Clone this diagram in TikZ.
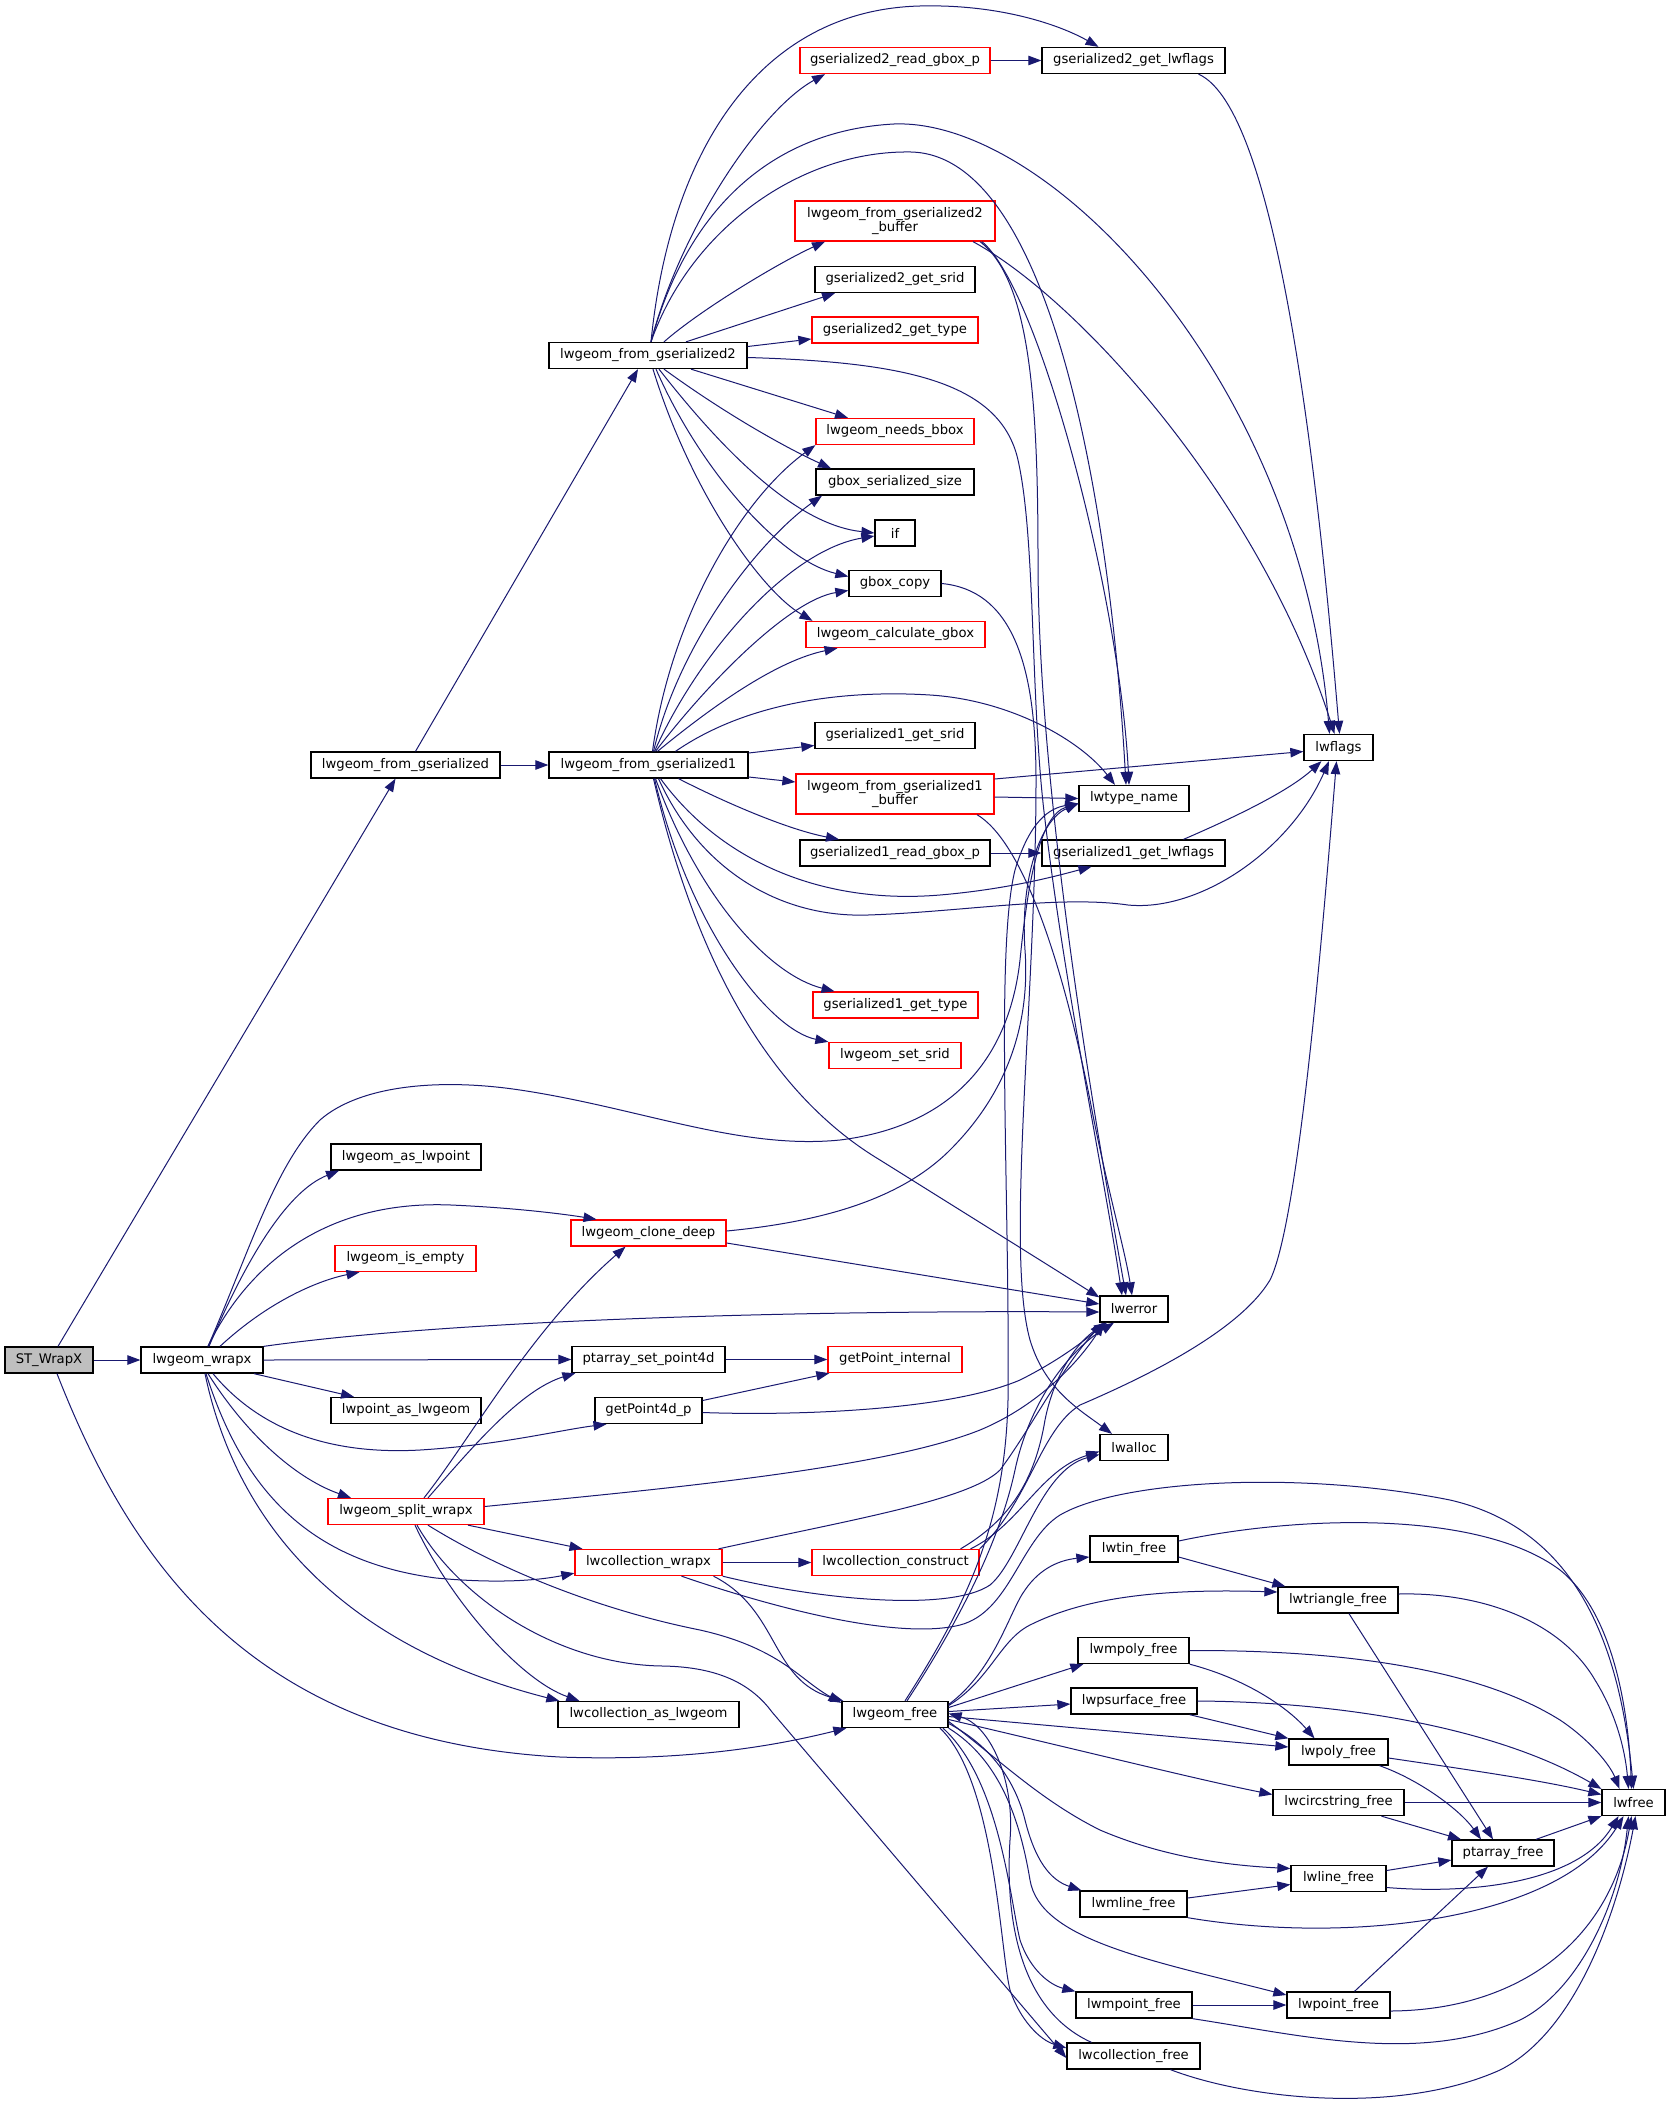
\documentclass[tikz,border=0pt]{standalone}
\usepackage{fontspec}
\setmainfont{DejaVu Sans}
\usetikzlibrary{arrows.meta}
\definecolor{edgecol}{HTML}{191970}
\definecolor{stgray}{HTML}{BFBFBF}
\newcommand\nfont{\fontsize{13.2}{14.7}\selectfont}
\begin{document}
\begin{tikzpicture}[x=1pt,y=-1pt,
  fn/.style={draw=black, fill=white, line width=1.3pt, inner sep=0pt, minimum height=26pt, font=\nfont, text=black, align=center},
  fnr/.style={fn, draw=red},
  edge/.style={draw=edgecol, line width=1pt, -{Triangle[length=13pt,width=9.5pt]}}]
\useasboundingbox (0,0) rectangle (1671,2114);
\fill[white] (0,0) rectangle (1671,2114);
% ---------------- nodes ----------------
\node[fn, fill=stgray, minimum width=88pt] (st) at (49,1360) {ST\_WrapX};
\node[fn, minimum width=122pt] (wrapx) at (202,1360) {lwgeom\_wrapx};
\node[fn, minimum width=189pt] (fromg) at (405.5,765) {lwgeom\_from\_gserialized};
\node[fn, minimum width=198pt] (fromg2) at (648,355.5) {lwgeom\_from\_gserialized2};
\node[fn, minimum width=199pt] (fromg1) at (648.5,765) {lwgeom\_from\_gserialized1};
\node[fnr, minimum width=190pt] (g2read) at (895,60.5) {gserialized2\_read\_gbox\_p};
\node[fn, minimum width=183pt] (g2lwflags) at (1133.5,60.5) {gserialized2\_get\_lwflags};
\node[fnr, minimum width=200pt, minimum height=40pt] (g2buf) at (895,221) {lwgeom\_from\_gserialized2\\\_buffer};
\node[fn, minimum width=160pt] (g2srid) at (895,279.5) {gserialized2\_get\_srid};
\node[fnr, minimum width=166pt] (g2type) at (895,330) {gserialized2\_get\_type};
\node[fnr, minimum width=158pt] (needsbbox) at (895,431.5) {lwgeom\_needs\_bbox};
\node[fn, minimum width=158pt] (gboxsize) at (895,482) {gbox\_serialized\_size};
\node[fn, minimum width=40pt] (if) at (895,533) {if};
\node[fn, minimum width=92pt] (gboxcopy) at (895,583.5) {gbox\_copy};
\node[fnr, minimum width=179pt] (calcgbox) at (895.5,634.5) {lwgeom\_calculate\_gbox};
\node[fn, minimum width=160pt] (g1srid) at (895,735.5) {gserialized1\_get\_srid};
\node[fnr, minimum width=198pt, minimum height=40pt] (g1buf) at (895,794) {lwgeom\_from\_gserialized1\\\_buffer};
\node[fn, minimum width=110pt] (lwtype) at (1134,798.5) {lwtype\_name};
\node[fn, minimum width=69pt] (lwflags) at (1338.5,747.5) {lwflags};
\node[fn, minimum width=190pt] (g1read) at (895,853) {gserialized1\_read\_gbox\_p};
\node[fn, minimum width=183pt] (g1lwflags) at (1133.5,853) {gserialized1\_get\_lwflags};
\node[fnr, minimum width=165pt] (g1type) at (895.5,1005) {gserialized1\_get\_type};
\node[fnr, minimum width=132pt] (setsrid) at (895,1055.5) {lwgeom\_set\_srid};
\node[fn, minimum width=150pt] (aslwpoint) at (406,1157) {lwgeom\_as\_lwpoint};
\node[fnr, minimum width=155pt] (clonedeep) at (648.5,1233) {lwgeom\_clone\_deep};
\node[fnr, minimum width=141pt] (isempty) at (405.5,1258.5) {lwgeom\_is\_empty};
\node[fn, minimum width=68pt] (lwerror) at (1134,1309) {lwerror};
\node[fn, minimum width=153pt] (ptset) at (648.5,1359.5) {ptarray\_set\_point4d};
\node[fnr, minimum width=134pt] (getpint) at (895,1359.5) {getPoint\_internal};
\node[fn, minimum width=150pt] (lwptaslw) at (406,1410.5) {lwpoint\_as\_lwgeom};
\node[fn, minimum width=107pt] (getp4d) at (648.5,1410.5) {getPoint4d\_p};
\node[fn, minimum width=68pt] (lwalloc) at (1134,1447.5) {lwalloc};
\node[fnr, minimum width=156pt] (splitwrapx) at (406,1511.5) {lwgeom\_split\_wrapx};
\node[fnr, minimum width=147pt] (collwrapx) at (648.5,1562.5) {lwcollection\_wrapx};
\node[fnr, minimum width=167pt] (collconstruct) at (895.5,1562.5) {lwcollection\_construct};
\node[fn, minimum width=88pt] (tinfree) at (1134,1549) {lwtin\_free};
\node[fn, minimum width=120pt] (trifree) at (1338,1600) {lwtriangle\_free};
\node[fn, minimum width=111pt] (mpolyfree) at (1133.5,1650.5) {lwmpoly\_free};
\node[fn, minimum width=126pt] (psurffree) at (1134,1701) {lwpsurface\_free};
\node[fn, minimum width=106pt] (geomfree) at (895,1714.5) {lwgeom\_free};
\node[fn, minimum width=181pt] (collaslw) at (648.5,1714.5) {lwcollection\_as\_lwgeom};
\node[fn, minimum width=99pt] (polyfree) at (1338.5,1752) {lwpoly\_free};
\node[fn, minimum width=131pt] (circfree) at (1338.5,1802.5) {lwcircstring\_free};
\node[fn, minimum width=63pt] (lwfree) at (1633.5,1802.5) {lwfree};
\node[fn, minimum width=102pt] (ptfree) at (1503,1853) {ptarray\_free};
\node[fn, minimum width=95pt] (linefree) at (1338.5,1878.5) {lwline\_free};
\node[fn, minimum width=107pt] (mlinefree) at (1133.5,1904) {lwmline\_free};
\node[fn, minimum width=116pt] (mptfree) at (1134,2005) {lwmpoint\_free};
\node[fn, minimum width=103pt] (ptfree2) at (1338.5,2005) {lwpoint\_free};
\node[fn, minimum width=133pt] (collfree) at (1133.5,2056) {lwcollection\_free};
% ---------------- edges ----------------
\draw[edge] ([xshift=9pt]st.north) -- ([xshift=-10pt]fromg.south);
\draw[edge] (st.east) -- (wrapx.west);
\draw[edge] ([xshift=8pt]st.south) .. controls (130,1560) and (250,1740) .. (560,1757) .. controls (700,1762) and (790,1742) .. ([xshift=5pt]geomfree.south west);
\draw[edge] (fromg.east) -- (fromg1.west);
\draw[edge] ([xshift=10pt]fromg.north) -- ([xshift=-10pt]fromg2.south);
% fromg2
\draw[edge] ([xshift=3pt]fromg2.north) .. controls (680,230) and (760,110) .. ([xshift=-70pt]g2read.south);
\draw[edge] ([xshift=3pt]fromg2.north) .. controls (670,150) and (760,10) .. (920,6) .. controls (1000,4) and (1060,25) .. ([xshift=-35pt]g2lwflags.north);
\draw[edge] ([xshift=3pt]fromg2.north) .. controls (690,200) and (780,130) .. (894,124) .. controls (1050,118) and (1300,380) .. ([xshift=-9pt]lwflags.north);
\draw[edge] ([xshift=3pt]fromg2.north) .. controls (690,230) and (800,150) .. (911,152) .. controls (1050,155) and (1110,500) .. ([xshift=-8pt]lwtype.north);
\draw[edge] ([xshift=16pt]fromg2.north) .. controls (700,310) and (780,262) .. ([xshift=-70pt]g2buf.south);
\draw[edge] ([xshift=38pt]fromg2.north) -- ([xshift=-60pt]g2srid.south);
\draw[edge] ([yshift=9pt]fromg2.east) -- ([yshift=-9pt]g2type.west);
\draw[edge] ([yshift=-2pt]fromg2.east) .. controls (900,362) and (1000,380) .. (1018,460) .. controls (1036,540) and (1030,700) .. (1045,820) .. controls (1065,990) and (1105,1180) .. ([xshift=-12pt]lwerror.north);
\draw[edge] ([xshift=43pt]fromg2.south) -- ([xshift=-47pt]needsbbox.north);
\draw[edge] ([xshift=16pt]fromg2.south) .. controls (720,410) and (780,445) .. ([xshift=-64pt]gboxsize.north);
\draw[edge] ([xshift=11pt]fromg2.south) .. controls (730,460) and (800,525) .. (if.west);
\draw[edge] ([xshift=8pt]fromg2.south) .. controls (700,470) and (780,560) .. ([yshift=7pt]gboxcopy.west);
\draw[edge] ([xshift=5pt]fromg2.south) .. controls (690,490) and (760,590) .. ([xshift=-83pt]calcgbox.north);
\draw[edge] (g2read.east) -- (g2lwflags.west);
\draw[edge] ([xshift=65pt]g2lwflags.south) .. controls (1280,110) and (1320,500) .. ([xshift=1pt]lwflags.north);
\draw[edge] ([xshift=78pt]g2buf.south) .. controls (1080,300) and (1260,500) .. ([xshift=-4pt]lwflags.north);
\draw[edge] ([xshift=87pt]g2buf.south) .. controls (1040,290) and (1120,600) .. ([xshift=-5pt]lwtype.north);
\draw[edge] ([xshift=85pt]g2buf.south) .. controls (1030,280) and (1038,400) .. (1038,560) .. controls (1038,800) and (1100,1150) .. ([xshift=-8pt]lwerror.north);
\draw[edge] (gboxcopy.east) .. controls (1010,590) and (1036,660) .. (1036,780) .. controls (1036,1000) and (1005,1250) .. (1030,1340) .. controls (1045,1390) and (1080,1410) .. ([xshift=-22pt]lwalloc.north);
% fromg1
\draw[edge] ([xshift=4pt]fromg1.north) .. controls (670,620) and (740,500) .. (needsbbox.south west);
\draw[edge] ([xshift=5pt]fromg1.north) .. controls (680,640) and (760,540) .. ([xshift=-73pt]gboxsize.south);
\draw[edge] ([xshift=6pt]fromg1.north) .. controls (700,650) and (790,550) .. ([yshift=-3pt]if.west);
\draw[edge] ([xshift=7pt]fromg1.north) .. controls (710,680) and (790,600) .. ([yshift=-7pt]gboxcopy.west);
\draw[edge] ([xshift=9pt]fromg1.north) .. controls (720,700) and (780,660) .. ([xshift=-58pt]calcgbox.south);
\draw[edge] ([xshift=27pt]fromg1.north) .. controls (750,700) and (850,690) .. (930,695) .. controls (1010,700) and (1080,740) .. ([xshift=-19pt]lwtype.north);
\draw[edge] ([yshift=12pt]fromg1.east) -- ([yshift=-10pt]g1srid.west);
\draw[edge] ([yshift=-12pt]fromg1.east) -- ([yshift=12pt]g1buf.west);
\draw[edge] ([xshift=30pt]fromg1.south) .. controls (730,805) and (790,830) .. ([xshift=-56pt]g1read.north);
\draw[edge] ([xshift=12pt]fromg1.south) .. controls (720,860) and (820,905) .. (940,895) .. controls (1010,889) and (1060,875) .. ([xshift=-42pt]g1lwflags.south);
\draw[edge] ([xshift=10pt]fromg1.south) .. controls (700,870) and (780,918) .. (868,915) .. controls (960,912) and (1060,895) .. (1128,905) .. controls (1200,912) and (1290,850) .. ([xshift=-9.5pt]lwflags.south);
\draw[edge] ([xshift=7pt]fromg1.south) .. controls (700,900) and (770,975) .. ([xshift=-61pt]g1type.north);
\draw[edge] ([xshift=6pt]fromg1.south) .. controls (690,930) and (770,1030) .. (setsrid.north west);
\draw[edge] ([xshift=5pt]fromg1.south) .. controls (700,980) and (780,1100) .. (880,1160) .. controls (960,1210) and (1040,1260) .. ([yshift=-2pt]lwerror.north west);
\draw[edge] ([yshift=15pt]g1buf.east) -- ([yshift=-4pt]lwflags.west);
\draw[edge] ([yshift=-3pt]g1buf.east) -- (lwtype.west);
\draw[edge] ([xshift=82pt]g1buf.south) .. controls (1020,840) and (1060,950) .. (1090,1100) .. controls (1105,1180) and (1125,1250) .. ([xshift=-2pt]lwerror.north);
\draw[edge] (g1read.east) -- (g1lwflags.west);
\draw[edge] ([xshift=50pt]g1lwflags.north) .. controls (1240,815) and (1290,790) .. ([xshift=-17pt]lwflags.south);
% wrapx
\draw[edge] ([xshift=6pt]wrapx.north) .. controls (250,1250) and (275,1165) .. (320,1120) .. controls (360,1085) and (440,1078) .. (520,1090) .. controls (640,1108) and (740,1150) .. (840,1140) .. controls (960,1125) and (1010,1050) .. (1020,960) .. controls (1028,880) and (1040,815) .. ([yshift=-5pt]lwtype.west);
\draw[edge] ([xshift=7pt]wrapx.north) .. controls (250,1250) and (290,1190) .. ([xshift=-67pt]aslwpoint.south);
\draw[edge] ([xshift=6pt]wrapx.north) .. controls (250,1260) and (330,1200) .. (451,1205) .. controls (520,1208) and (570,1215) .. ([xshift=-52pt]clonedeep.north);
\draw[edge] ([xshift=18pt]wrapx.north) .. controls (270,1300) and (320,1280) .. ([xshift=-46pt]isempty.south);
\draw[edge] (wrapx.north east) .. controls (450,1320) and (800,1310) .. ([yshift=-3pt]lwerror.west);
\draw[edge] (wrapx.east) -- (ptset.west);
\draw[edge] ([xshift=52pt]wrapx.south) -- ([xshift=-52pt]lwptaslw.north);
\draw[edge] ([xshift=11pt]wrapx.south) .. controls (260,1430) and (330,1455) .. (420,1450) .. controls (500,1445) and (560,1430) .. ([xshift=-42pt]getp4d.south);
\draw[edge] ([xshift=6pt]wrapx.south) .. controls (250,1440) and (300,1480) .. ([xshift=-55pt]splitwrapx.north);
\draw[edge] ([xshift=4pt]wrapx.south) .. controls (240,1480) and (300,1560) .. (436,1578) .. controls (500,1584) and (540,1580) .. ([yshift=3pt]collwrapx.south west);
\draw[edge] ([xshift=3pt]wrapx.south) .. controls (240,1540) and (360,1650) .. ([xshift=2pt]collaslw.north west);
% clonedeep, getPoint
\draw[edge] ([yshift=2pt]clonedeep.east) .. controls (820,1222) and (900,1200) .. (950,1150) .. controls (1010,1090) and (1030,1020) .. (1025,950) .. controls (1020,880) and (1040,820) .. ([yshift=-5pt]lwtype.west);
\draw[edge] ([yshift=-10pt]clonedeep.east) -- ([yshift=5pt]lwerror.west);
\draw[edge] (ptset.east) -- (getpint.west);
\draw[edge] ([yshift=10pt]getp4d.east) -- ([xshift=2pt]getpint.south west);
\draw[edge] ([yshift=-2pt]getp4d.east) .. controls (800,1416) and (950,1410) .. (1020,1380) .. controls (1060,1360) and (1085,1340) .. ([xshift=-28pt]lwerror.south);
% split
\draw[edge] ([xshift=18pt]splitwrapx.north) .. controls (470,1440) and (530,1330) .. ([xshift=-23pt]clonedeep.south);
\draw[edge] ([xshift=22pt]splitwrapx.north) .. controls (470,1450) and (520,1390) .. ([xshift=4pt]ptset.south west);
\draw[edge] ([yshift=5pt]splitwrapx.east) .. controls (650,1490) and (880,1470) .. (980,1430) .. controls (1040,1405) and (1080,1360) .. ([xshift=-30pt]lwerror.south);
\draw[edge] ([xshift=62pt]splitwrapx.south) -- ([xshift=-66pt]collwrapx.north);
\draw[edge] ([xshift=22pt]splitwrapx.south) .. controls (500,1570) and (600,1610) .. (700,1630) .. controls (780,1648) and (800,1680) .. ([yshift=-2pt]geomfree.north west);
\draw[edge] ([xshift=9pt]splitwrapx.south) .. controls (450,1600) and (520,1680) .. ([xshift=22pt]collaslw.north west);
\draw[edge] ([xshift=11pt]splitwrapx.south) .. controls (460,1600) and (560,1665) .. (663,1666) .. controls (720,1667) and (752,1685) .. (772,1712) -- ([yshift=-2pt]collfree.west);
% collwrapx
\draw[edge] (collwrapx.east) -- (collconstruct.west);
\draw[edge] ([xshift=70pt]collwrapx.north) .. controls (850,1520) and (970,1500) .. (1000,1470) .. controls (1030,1430) and (1060,1370) .. ([xshift=-31pt]lwerror.south);
\draw[edge] (collwrapx.south east) .. controls (820,1600) and (950,1612) .. (990,1585) .. controls (1020,1560) and (1040,1470) .. ([yshift=-7pt]lwalloc.west);
\draw[edge] ([xshift=33pt]collwrapx.south) .. controls (780,1610) and (900,1640) .. (960,1625) .. controls (1010,1612) and (1020,1540) .. (1060,1515) .. controls (1120,1480) and (1300,1470) .. (1450,1500) .. controls (1580,1530) and (1620,1650) .. (lwfree.north);
\draw[edge] ([xshift=65pt]collwrapx.south) .. controls (780,1610) and (770,1680) .. ([xshift=2pt]geomfree.north west);
% collconstruct
\draw[edge] ([xshift=65pt]collconstruct.north) .. controls (1010,1520) and (1035,1480) .. (1045,1420) .. controls (1055,1370) and (1080,1340) .. ([xshift=-27pt]lwerror.south);
\draw[edge] ([xshift=75pt]collconstruct.north) .. controls (1020,1525) and (1040,1470) .. ([yshift=-4pt]lwalloc.west);
\draw[edge] (collconstruct.north east) .. controls (1030,1500) and (1040,1430) .. (1080,1405) .. controls (1150,1375) and (1240,1330) .. (1270,1280) .. controls (1300,1220) and (1325,900) .. ([xshift=-2pt]lwflags.south);
% geomfree
\draw[edge] ([xshift=12pt]geomfree.north) .. controls (960,1620) and (1000,1540) .. (1015,1470) .. controls (1030,1400) and (1070,1350) .. ([xshift=-20pt]lwerror.south);
\draw[edge] ([xshift=10pt]geomfree.north) .. controls (970,1600) and (1005,1520) .. (1008,1400) .. controls (1010,1200) and (995,950) .. (1015,870) .. controls (1030,820) and (1050,808) .. ([yshift=-5pt]lwtype.west);
\draw[edge] ([yshift=10pt]geomfree.east) .. controls (995,1670) and (1010,1610) .. (1025,1590) .. controls (1040,1568) and (1060,1560) .. ([yshift=-8pt]tinfree.west);
\draw[edge] ([yshift=9pt]geomfree.east) .. controls (990,1680) and (1000,1640) .. (1030,1625) .. controls (1080,1600) and (1150,1588) .. ([yshift=8pt]trifree.west);
\draw[edge] ([yshift=7pt]geomfree.east) -- ([xshift=6pt]mpolyfree.south west);
\draw[edge] ([yshift=3pt]geomfree.east) -- ([yshift=-3pt]psurffree.west);
\draw[edge] ([yshift=-2pt]geomfree.east) -- ([yshift=5pt]polyfree.west);
\draw[edge] ([yshift=-5pt]geomfree.east) .. controls (1100,1755) and (1200,1780) .. ([yshift=8pt]circfree.west);
\draw[edge] ([yshift=-7pt]geomfree.east) .. controls (1000,1760) and (1040,1800) .. (1100,1830) .. controls (1170,1860) and (1240,1866) .. ([yshift=10pt]linefree.west);
\draw[edge] ([yshift=-9pt]geomfree.east) .. controls (990,1745) and (1015,1780) .. (1025,1820) .. controls (1035,1860) and (1050,1880) .. ([xshift=2pt]mlinefree.north west);
\draw[edge] (geomfree.south east) .. controls (1000,1760) and (1020,1820) .. (1030,1880) .. controls (1040,1940) and (1150,1960) .. ([yshift=10pt]ptfree2.west);
\draw[edge] ([xshift=48pt]geomfree.south) .. controls (1000,1780) and (1010,1900) .. (1020,1940) .. controls (1030,1970) and (1050,1985) .. (mptfree.north west);
\draw[edge] ([xshift=45pt]geomfree.south) .. controls (995,1780) and (1000,1950) .. (1010,1990) .. controls (1020,2020) and (1040,2040) .. ([yshift=8pt]collfree.west);
\draw[edge] ([xshift=-42pt]collfree.north) .. controls (1020,2010) and (1005,1920) .. (1010,1840) .. controls (1015,1780) and (990,1725) .. ([yshift=1pt]geomfree.east);
% free functions
\draw[edge] ([yshift=8pt]tinfree.east) .. controls (1300,1515) and (1480,1510) .. (1560,1570) .. controls (1610,1610) and (1628,1700) .. ([xshift=-2pt]lwfree.north);
\draw[edge] ([yshift=-8pt]tinfree.east) -- ([xshift=8pt]trifree.north west);
\draw[edge] ([yshift=6pt]trifree.east) .. controls (1480,1592) and (1560,1620) .. (1595,1680) .. controls (1620,1720) and (1626,1760) .. ([xshift=-5pt]lwfree.north);
\draw[edge] ([xshift=11pt]trifree.south) -- ([xshift=-10pt]ptfree.north);
\draw[edge] (mpolyfree.east) .. controls (1350,1650) and (1480,1670) .. (1560,1720) .. controls (1590,1740) and (1610,1765) .. ([xshift=-14pt]lwfree.north);
\draw[edge] (mpolyfree.south east) .. controls (1250,1680) and (1290,1710) .. ([xshift=-24pt]polyfree.north);
\draw[edge] (psurffree.east) .. controls (1350,1702) and (1500,1730) .. (lwfree.north west);
\draw[edge] ([xshift=-8pt]psurffree.south east) -- (polyfree.north west);
\draw[edge] ([yshift=-6pt]polyfree.east) .. controls (1470,1770) and (1540,1780) .. ([yshift=8pt]lwfree.west);
\draw[edge] ([xshift=41pt]polyfree.south) .. controls (1420,1780) and (1460,1810) .. ([xshift=-22pt]ptfree.north);
\draw[edge] (circfree.east) -- (lwfree.west);
\draw[edge] ([xshift=43pt]circfree.south) -- ([xshift=-42pt]ptfree.north);
\draw[edge] ([xshift=33pt]ptfree.north) -- (lwfree.south west);
\draw[edge] ([yshift=8pt]linefree.east) -- ([yshift=-7pt]ptfree.west);
\draw[edge] ([yshift=-9pt]linefree.east) .. controls (1480,1895) and (1580,1880) .. ([xshift=-15pt]lwfree.south);
\draw[edge] ([yshift=6pt]mlinefree.east) -- ([yshift=-6pt]linefree.west);
\draw[edge] (mlinefree.south east) .. controls (1350,1945) and (1560,1920) .. ([xshift=-10pt]lwfree.south);
\draw[edge] (mptfree.east) -- (ptfree2.west);
\draw[edge] (mptfree.south east) .. controls (1300,2035) and (1420,2065) .. (1520,2020) .. controls (1580,1990) and (1620,1900) .. ([xshift=-5pt]lwfree.south);
\draw[edge] ([xshift=16pt]ptfree2.north) -- ([xshift=-15pt]ptfree.south);
\draw[edge] ([yshift=-6pt]ptfree2.east) .. controls (1520,2010) and (1610,1940) .. ([xshift=-2pt]lwfree.south);
\draw[edge] ([xshift=37pt]collfree.south) .. controls (1250,2100) and (1400,2115) .. (1500,2070) .. controls (1580,2030) and (1620,1900) .. ([xshift=2pt]lwfree.south);
\end{tikzpicture}
\end{document}
